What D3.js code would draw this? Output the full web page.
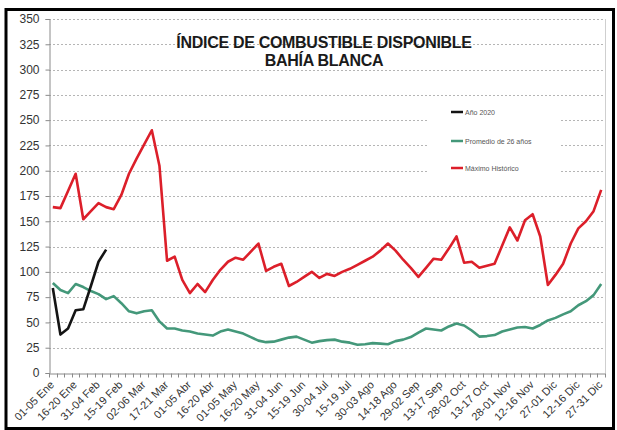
<!DOCTYPE html>
<html lang="es">
<head>
<meta charset="UTF-8">
<title>Índice de combustible disponible - Bahía Blanca</title>
<script src="https://d3js.org/d3.v7.min.js"></script>
<style>
  body { margin: 0; background: #fff; }
  text { font-family: "Liberation Sans", Arial, sans-serif; }
  .grid line { stroke: #b5b5b5; stroke-width: 1px; stroke-dasharray: 2,2; }
  .axis path, .axis line { stroke: #8a8a8a; }
  .axis text { fill: #333; }
  .title { font-weight: bold; font-size: 16px; fill: #1a1a1a; letter-spacing: -0.3px; }
  .legend text { font-size: 7px; fill: #555; }
</style>
</head>
<body>
<svg width="617" height="430"></svg>
<script>

// periodos de 5 dias
var periods = [
  "01-05 Ene","06-10 Ene","11-15 Ene","16-20 Ene","21-25 Ene","26-30 Ene",
  "31-04 Feb","05-09 Feb","10-14 Feb","15-19 Feb","20-24 Feb","25-01 Mar",
  "02-06 Mar","07-11 Mar","12-16 Mar","17-21 Mar","22-26 Mar","27-31 Mar",
  "01-05 Abr","06-10 Abr","11-15 Abr","16-20 Abr","21-25 Abr","26-30 Abr",
  "01-05 May","06-10 May","11-15 May","16-20 May","21-25 May","26-30 May",
  "31-04 Jun","05-09 Jun","10-14 Jun","15-19 Jun","20-24 Jun","25-29 Jun",
  "30-04 Jul","05-09 Jul","10-14 Jul","15-19 Jul","20-24 Jul","25-29 Jul",
  "30-03 Ago","04-08 Ago","09-13 Ago","14-18 Ago","19-23 Ago","24-28 Ago",
  "29-02 Sep","03-07 Sep","08-12 Sep","13-17 Sep","18-22 Sep","23-27 Sep",
  "28-02 Oct","03-07 Oct","08-12 Oct","13-17 Oct","18-22 Oct","23-27 Oct",
  "28-01 Nov","02-06 Nov","07-11 Nov","12-16 Nov","17-21 Nov","22-26 Nov",
  "27-01 Dic","02-06 Dic","07-11 Dic","12-16 Dic","17-21 Dic","22-26 Dic",
  "27-31 Dic"
];

var tickLabels = [
  "01-05 Ene","16-20 Ene","31-04 Feb","15-19 Feb","02-06 Mar","17-21 Mar",
  "01-05 Abr","16-20 Abr","01-05 May","16-20 May","31-04 Jun","15-19 Jun",
  "30-04 Jul","15-19 Jul","30-03 Ago","14-18 Ago","29-02 Sep","13-17 Sep",
  "28-02 Oct","13-17 Oct","28-01 Nov","12-16 Nov","27-01 Dic","12-16 Dic",
  "27-31 Dic"
];

var maximo = [
  164,163,180,197,152,160,168,164,162,176,197,212,226,240,205,111,115,92,
  79,88,80,92,102,110,114,112,120,128,101,105,108,86,90,95,100,94,
  98,96,100,103,107,111,115,121,128,121,112,104,95,104,113,112,123,135,
  109,110,104,106,108,126,144,131,151,157,135,87,97,108,128,143,150,160,
  181
];

var promedio = [
  89,82,79,88,85,81,78,73,76,69,61,59,61,62,51,44,44,42,
  41,39,38,37,41,43,41,39,35.5,32,30.5,31,33,35,36,33,30,31.5,
  32.5,33,31,30,28,28.5,29.5,29,28.5,31.5,33,35.5,40,44,43,42,46,49,
  47,42,36,36.5,37.5,41,43,45,45.5,44,47.5,52,54.5,58,61,67,71,77,
  88
];

var anio2020 = [84,38,44,62,63,86,110,122];

var yTicks = [0,25,50,75,100,125,150,175,200,225,250,275,300,325,350];

var series = [
  {name: "Año 2020", values: anio2020, color: "#141414"},
  {name: "Promedio de 26 años", values: promedio, color: "#44987a"},
  {name: "Máximo Histórico", values: maximo, color: "#dc1f2a"}
];

var svg = d3.select("svg");

var plotL = 49, plotR = 605, plotT = 19, plotB = 373;

var x = d3.scaleBand().domain(periods).range([plotL, plotR]);
var y = d3.scaleLinear().domain([0, 350]).range([plotB, plotT]);

// marco exterior
svg.append("rect")
    .attr("x", 6).attr("y", 9.5)
    .attr("width", 607.5).attr("height", 419)
    .attr("fill", "none")
    .attr("stroke", "#000")
    .attr("stroke-width", 3);

// grilla
svg.append("g")
    .attr("class", "grid")
    .selectAll("line")
    .data(yTicks.filter(function(d) { return d > 0; }))
    .enter().append("line")
    .attr("x1", plotL).attr("x2", plotR)
    .attr("y1", function(d) { return Math.round(y(d)) + 0.5; })
    .attr("y2", function(d) { return Math.round(y(d)) + 0.5; });

// borde derecho del area
svg.append("line")
    .attr("x1", plotR + 0.5).attr("x2", plotR + 0.5)
    .attr("y1", plotT).attr("y2", plotB)
    .attr("stroke", "#cfcfcf");

// fondo de la leyenda tapa la grilla
svg.append("rect")
    .attr("x", 428).attr("y", 100)
    .attr("width", 132).attr("height", 86)
    .attr("fill", "#fff");

// eje y
var yAxis = svg.append("g")
    .attr("class", "axis")
    .attr("transform", "translate(" + (plotL + 0.5) + ",0)")
    .call(d3.axisLeft(y).tickValues(yTicks).tickSize(4).tickPadding(6));
yAxis.selectAll("text").style("font-size", "12px");

// eje x
var xAxis = svg.append("g")
    .attr("class", "axis")
    .attr("transform", "translate(0," + (plotB + 0.5) + ")")
    .call(d3.axisBottom(x).tickValues(tickLabels).tickSize(0).tickPadding(0));

xAxis.selectAll("text")
    .style("font-size", "11px")
    .style("text-anchor", "end")
    .attr("x", -7)
    .attr("y", 6)
    .attr("dy", "0.35em")
    .attr("transform", "rotate(-45)");

// marcas entre categorias
xAxis.selectAll(".cat-tick")
    .data(periods.concat(["fin"]))
    .enter().append("line")
    .attr("class", "cat-tick")
    .attr("x1", function(d, i) { return Math.round(plotL + i * x.step()) + 0.5; })
    .attr("x2", function(d, i) { return Math.round(plotL + i * x.step()) + 0.5; })
    .attr("y1", 0).attr("y2", 4)
    .attr("stroke", "#8a8a8a");

// lineas
var line = d3.line()
    .x(function(d, i) { return x(periods[i]) + x.bandwidth() / 2; })
    .y(function(d) { return y(d); });

svg.append("g")
    .selectAll("path")
    .data(series.slice().reverse())
    .enter().append("path")
    .attr("d", function(d) { return line(d.values); })
    .attr("fill", "none")
    .attr("stroke", function(d) { return d.color; })
    .attr("stroke-width", 2.6)
    .attr("stroke-linejoin", "round");

// titulo
svg.append("text")
    .attr("class", "title")
    .attr("x", 324).attr("y", 48)
    .attr("text-anchor", "middle")
    .text("ÍNDICE DE COMBUSTIBLE DISPONIBLE");
svg.append("text")
    .attr("class", "title")
    .attr("x", 324).attr("y", 66)
    .attr("text-anchor", "middle")
    .text("BAHÍA BLANCA");

// leyenda
var legendY = [112, 141, 168];
var legend = svg.append("g")
    .attr("class", "legend")
    .selectAll("g")
    .data(series)
    .enter().append("g")
    .attr("transform", function(d, i) { return "translate(451," + legendY[i] + ")"; });

legend.append("line")
    .attr("x1", 0).attr("x2", 12)
    .attr("stroke", function(d) { return d.color; })
    .attr("stroke-width", 2.5);

legend.append("text")
    .attr("x", 14)
    .attr("y", 2.5)
    .text(function(d) { return d.name; });

</script>
</body>
</html>
